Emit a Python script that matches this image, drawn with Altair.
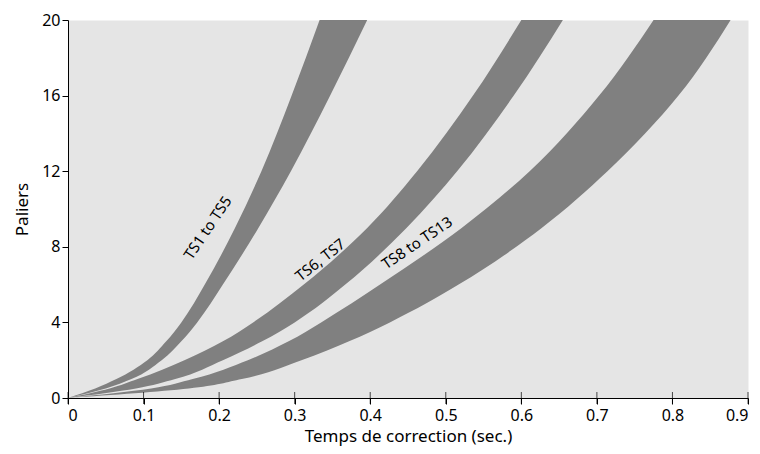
import altair as alt
import pandas as pd

# Paliers (y) and left/right edge of each band (Temps de correction, sec.)
paliers = [0, 0.5, 1, 2, 3, 4, 6, 9, 12, 16, 20]
ts1_5_left = [0, 0.036, 0.064, 0.105, 0.130, 0.150, 0.181, 0.221, 0.256, 0.296, 0.333]
ts1_5_right = [0, 0.050, 0.084, 0.124, 0.150, 0.171, 0.205, 0.252, 0.295, 0.347, 0.396]
ts6_7_left = [0, 0.055, 0.092, 0.154, 0.205, 0.245, 0.312, 0.396, 0.462, 0.536, 0.600]
ts6_7_right = [0, 0.090, 0.142, 0.205, 0.257, 0.300, 0.367, 0.448, 0.515, 0.590, 0.655]
ts8_13_left = [0, 0.110, 0.165, 0.238, 0.292, 0.335, 0.413, 0.521, 0.611, 0.703, 0.775]
ts8_13_right = [0, 0.160, 0.230, 0.309, 0.372, 0.426, 0.517, 0.627, 0.714, 0.808, 0.877]

band_names = ["TS1 to TS5", "TS6, TS7", "TS8 to TS13"]
label_x = [0.185, 0.334, 0.462]
label_y = [9.0, 7.3, 8.2]
label_angle = [304, 322, 326]

x_ticks = [0, 0.1, 0.2, 0.3, 0.4, 0.5, 0.6, 0.7, 0.8, 0.9]
y_ticks = [0, 4, 8, 12, 16, 20]

rows = []
for name, lefts, rights in zip(
    band_names,
    [ts1_5_left, ts6_7_left, ts8_13_left],
    [ts1_5_right, ts6_7_right, ts8_13_right],
):
    for p, l, r in zip(paliers, lefts, rights):
        rows.append({"band": name, "palier": p, "left": l, "right": r})
df = pd.DataFrame(rows)

labels = pd.DataFrame({"text": band_names, "x": label_x, "y": label_y, "angle": label_angle})
ticks = pd.DataFrame({"t": x_ticks})

FONT = "Noto Sans"

xscale = alt.Scale(domain=[0, 0.9], nice=False, zero=False)
yscale = alt.Scale(domain=[0, 20], nice=False)

bands = alt.Chart(df).mark_area(
    orient="horizontal", interpolate="monotone", color="#808080", opacity=1
).encode(
    y=alt.Y("palier:Q", scale=yscale,
            axis=alt.Axis(values=y_ticks, title="Paliers", tickSize=6, grid=False)),
    x=alt.X("left:Q", scale=xscale,
            axis=alt.Axis(values=x_ticks, title="Temps de correction (sec.)",
                          tickSize=6, grid=False,
                          labelExpr="datum.value == 0 ? '0' : format(datum.value, '.1f')")),
    x2="right:Q",
    detail="band:N",
)

text = alt.Chart(labels).mark_text(
    font=FONT, fontSize=15, color="black", align="center", baseline="middle"
).encode(
    x=alt.X("x:Q", scale=xscale),
    y=alt.Y("y:Q", scale=yscale),
    text="text:N",
    angle=alt.Angle("angle:Q", scale=None),
)

up_ticks = alt.Chart(ticks).mark_tick(
    orient="vertical", color="black", thickness=1, size=12
).encode(
    x=alt.X("t:Q", scale=xscale),
    y=alt.datum(0, scale=yscale),
)

chart = alt.layer(bands, up_ticks, text).properties(
    width=680, height=378,
    autosize=alt.AutoSizeParams(type="none"),
    padding={"left": 60, "top": 12, "right": 4, "bottom": 48},
).configure_view(
    fill="#e5e5e5", strokeOpacity=0
).configure_axis(
    labelFont=FONT, labelFontSize=16, labelColor="black",
    titleFont=FONT, titleFontSize=17, titleFontWeight="normal", titleColor="black",
    domainColor="black", tickColor="black", domainWidth=1, tickWidth=1,
).configure_axisX(
    labelPadding=3, titlePadding=5,
).configure_axisY(
    labelPadding=2, titlePadding=10,
)

chart.save("out.html", embed_options={"renderer": "svg", "actions": False})
